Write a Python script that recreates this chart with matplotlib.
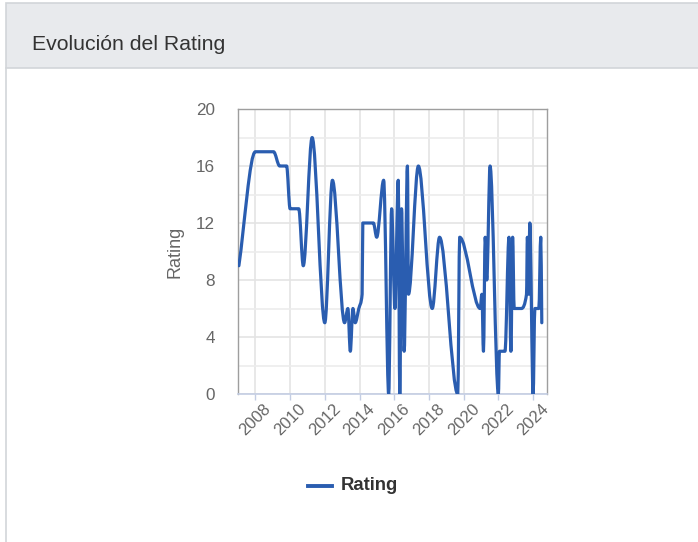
import numpy as np
import matplotlib
matplotlib.use("Agg")
import matplotlib.pyplot as plt
from matplotlib.path import Path
from matplotlib.patches import PathPatch, Rectangle
from matplotlib.lines import Line2D

plt.rcParams['font.family'] = ['Liberation Sans', 'DejaVu Sans']

# rating values (x = decimal year)
years = [2007.05, 2008.0, 2009.05, 2009.4, 2009.8, 2010.0, 2010.5, 2010.76,
         2011.27, 2012.0, 2012.44, 2013.14, 2013.33, 2013.47, 2013.62, 2013.75,
         2013.96, 2014.15, 2014.19, 2014.8, 2014.99, 2015.39, 2015.68, 2015.85,
         2016.04, 2016.23, 2016.32, 2016.42, 2016.57, 2016.76, 2016.82, 2017.39,
         2018.19, 2018.61, 2019.66, 2019.77, 2020.95, 2021.05, 2021.14, 2021.24,
         2021.33, 2021.52, 2022.0, 2022.06, 2022.38, 2022.61, 2022.72, 2022.82,
         2022.91, 2023.33, 2023.62, 2023.67, 2023.75, 2023.81, 2024.0, 2024.1,
         2024.33, 2024.44, 2024.5]
ratings = [9, 17, 17, 16, 16, 13, 13, 9,
           18, 5, 15, 5, 6, 3, 6, 5,
           6, 7, 12, 12, 11, 15, 0, 13,
           6, 15, 0, 13, 3, 16, 7, 16,
           6, 11, 0, 11, 6, 7, 3, 11,
           8, 16, 0, 3, 3, 11, 3, 11,
           6, 6, 7, 11, 7, 12, 0, 6,
           6, 11, 5]

year_ticks = [2008, 2010, 2012, 2014, 2016, 2018, 2020, 2022, 2024]
rating_ticks = [0, 4, 8, 12, 16, 20]

LINE = '#2a5db0'
TXT = '#666666'

W, H = 698, 542
fig = plt.figure(figsize=(W / 100, H / 100), dpi=100)

# card header
fig.patches.append(Rectangle((6 / W, 1 - 68 / H), 1, 65 / H, transform=fig.transFigure,
                             facecolor='#e8eaed', edgecolor='#d2d5d9', lw=1.2))
fig.add_artist(Line2D([6 / W, 6 / W], [0, 1 - 68 / H], color='#d2d5d9', lw=1.2))
fig.text(32 / W, 1 - 45 / H, 'Evolución del Rating', fontsize=15.3, color='#333333',
         va='center', ha='left')

ax = fig.add_axes([238 / W, 1 - 394 / H, 309 / W, 285 / H])
ax.set_xlim(2007.03, 2024.8)
ax.set_ylim(0, 20)

# smooth monotone curve through the points, drawn as bezier segments
x = np.array(years, float)
y = np.array(ratings, float)
h = np.diff(x)
d = np.diff(y) / h
m = np.zeros_like(y)
m[0], m[-1] = d[0], d[-1]
for k in range(1, len(y) - 1):
    if d[k - 1] * d[k] > 0:
        w1 = 2 * h[k] + h[k - 1]
        w2 = h[k] + 2 * h[k - 1]
        m[k] = (w1 + w2) / (w1 / d[k - 1] + w2 / d[k])
verts = [(x[0], y[0])]
codes = [Path.MOVETO]
for k in range(len(y) - 1):
    verts += [(x[k] + h[k] / 3, y[k] + m[k] * h[k] / 3),
              (x[k + 1] - h[k] / 3, y[k + 1] - m[k + 1] * h[k] / 3),
              (x[k + 1], y[k + 1])]
    codes += [Path.CURVE4] * 3
ax.add_patch(PathPatch(Path(verts, codes), facecolor='none', edgecolor=LINE,
                       lw=2.3, joinstyle='round', capstyle='round', zorder=3))

ax.set_xticks(year_ticks)
ax.set_xticks(np.arange(2007, 2025, 1), minor=True)
ax.set_yticks(rating_ticks)
ax.set_yticks(np.arange(0, 21, 2), minor=True)
ax.grid(which='major', color='#e4e4e4', lw=1.2)
ax.grid(which='minor', axis='y', color='#ececec', lw=1.2)
ax.tick_params(which='minor', length=0)
ax.tick_params(axis='y', length=0, pad=16.5, labelsize=12.3, labelcolor=TXT)
ax.tick_params(axis='x', length=4, color='#c3cde3', width=1, labelsize=12,
               labelcolor=TXT, pad=1)
for lbl in ax.get_xticklabels():
    lbl.set_rotation(45)
    lbl.set_ha('center')
    lbl.set_va('top')
for lbl in ax.get_yticklabels():
    lbl.set_ha('right')

for s in ['top', 'right', 'left']:
    ax.spines[s].set_color('#9e9e9e')
    ax.spines[s].set_linewidth(1)
ax.spines['bottom'].set_color('#c3cde3')
ax.spines['bottom'].set_linewidth(1.2)

ax.set_ylabel('Rating', fontsize=13, color=TXT, labelpad=9)

# legend
fig.add_artist(Line2D([308 / W, 332 / W], [1 - 486 / H] * 2, color=LINE, lw=2.8))
fig.text(341 / W, 1 - 486 / H, 'Rating', fontsize=13.3, fontweight='bold',
         color='#333333', va='center', ha='left')

fig.savefig('out.png', dpi=100)
